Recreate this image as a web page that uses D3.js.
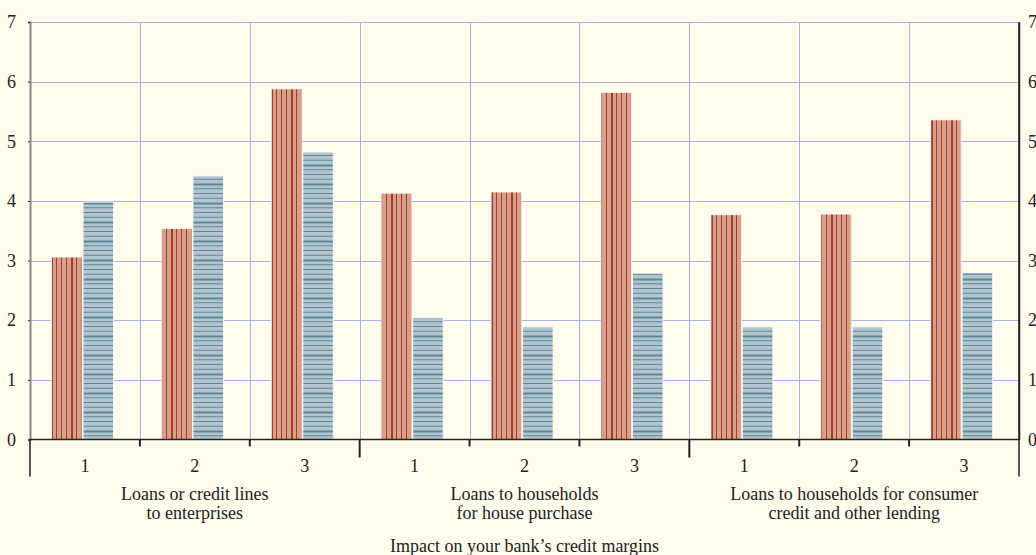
<!DOCTYPE html>
<html>
<head>
<meta charset="utf-8">
<script src="https://cdn.jsdelivr.net/npm/d3@7"></script>
<style>
  body { margin: 0; background: #fffcee; }
  svg { display: block; }
  text { font-family: "Liberation Serif", "DejaVu Serif", serif; fill: #222; }
</style>
</head>
<body>
<svg id="chart" width="1036" height="555"></svg>
<script>
// data
const categories = ['Loans or credit lines|to enterprises',
                    'Loans to households|for house purchase',
                    'Loans to households for consumer|credit and other lending'];
const subLabels = ['1', '2', '3'];
const seriesA = [3.06, 3.54, 5.88, 4.13, 4.15, 5.82, 3.77, 3.78, 5.36];
const seriesB = [3.98, 4.42, 4.82, 2.04, 1.89, 2.79, 1.89, 1.89, 2.80];
const yTicks = [0, 1, 2, 3, 4, 5, 6, 7];
const xTitle = 'Impact on your bank\u2019s credit margins';

const W = 1036, H = 555;
const m = { left: 30, right: 17, top: 22, bottom: 115 };
const svg = d3.select('#chart');
const FS = '18px';

svg.append('rect').attr('width', W).attr('height', H).attr('fill', '#fffcee');

// patterns
const defs = svg.append('defs');
const pr = defs.append('pattern').attr('id', 'redpat')
  .attr('patternUnits', 'userSpaceOnUse').attr('width', 20).attr('height', 10);
pr.append('rect').attr('width', 20).attr('height', 10).attr('fill', '#d69f88');
[[1, 1], [6, 1], [11, 2], [16, 1]].forEach(([x, w]) =>
  pr.append('rect').attr('x', x).attr('width', w).attr('height', 10).attr('fill', '#a83a2c'));

const pb = defs.append('pattern').attr('id', 'bluepat')
  .attr('patternUnits', 'userSpaceOnUse').attr('width', 10).attr('height', 19);
pb.append('rect').attr('width', 10).attr('height', 19).attr('fill', '#b4c4cc');
[[3, 1], [7.75, 1], [12.5, 2], [17.25, 1]].forEach(([y, h]) =>
  pb.append('rect').attr('y', y).attr('height', h).attr('width', 10).attr('fill', '#5a8a9a'));

const groups = d3.range(seriesA.length);
const x0 = d3.scaleBand().domain(groups).range([m.left, W - m.right]);
const x1 = d3.scaleBand().domain(['a', 'b']).range([0, x0.bandwidth()])
  .paddingInner(0.032).paddingOuter(0.76).align(0.45);
const y = d3.scaleLinear().domain([0, 7]).range([H - m.bottom - 0.5, m.top]);

const x0r = W - m.right;

// grid
const grid = svg.append('g').attr('stroke', '#a9b0e8').attr('stroke-width', 1);
yTicks.filter(d => d > 0).forEach(t =>
  grid.append('line').attr('x1', m.left).attr('x2', x0r).attr('y1', Math.round(y(t)) + 0.5).attr('y2', Math.round(y(t)) + 0.5));
groups.slice(1).forEach(g =>
  grid.append('line').attr('x1', Math.round(x0(g)) + 0.5).attr('x2', Math.round(x0(g)) + 0.5).attr('y1', y(7)).attr('y2', y(0)));

// bars
const bars = svg.append('g');
groups.forEach(g => {
  [['a', seriesA[g], 'url(#redpat)'], ['b', seriesB[g], 'url(#bluepat)']].forEach(([k, v, f]) => {
    bars.append('rect')
      .attr('x', x0(g) + x1(k))
      .attr('width', x1.bandwidth())
      .attr('y', y(v))
      .attr('height', y(0) - y(v))
      .attr('fill', f)
      .attr('stroke', '#ffffff').attr('stroke-opacity', 0.8).attr('stroke-width', 1);
  });
});

// axes
const yL = svg.append('g').attr('transform', `translate(${m.left},0)`)
  .call(d3.axisLeft(y).tickValues(yTicks).tickSize(2).tickPadding(12).tickFormat(d3.format('d')));
yL.select('.domain').attr('stroke', '#888').attr('stroke-width', 2);
const yR = svg.append('g').attr('transform', `translate(${x0r},0)`)
  .call(d3.axisRight(y).tickValues(yTicks).tickSize(0).tickPadding(9).tickFormat(d3.format('d')));
yR.select('.domain').attr('stroke', '#222').attr('stroke-width', 1.5);
svg.selectAll('.tick text').style('font-family', '"Liberation Serif", serif').style('font-size', FS).attr('fill', '#222');
svg.selectAll('.tick line').attr('stroke', '#222');

// baseline and group ticks
const base = y(0);
const xa = svg.append('g').attr('stroke', '#222');
xa.append('line').attr('x1', m.left).attr('x2', x0r).attr('y1', base).attr('y2', base).attr('stroke-width', 1.5);
xa.append('line').attr('x1', m.left).attr('x2', m.left).attr('y1', base).attr('y2', base + 37).attr('stroke-width', 1.5);
xa.append('line').attr('x1', x0r).attr('x2', x0r).attr('y1', m.top).attr('y2', base + 37).attr('stroke-width', 1.5);
groups.slice(1).forEach(g => {
  const major = g % 3 === 0;
  xa.append('line').attr('x1', x0(g)).attr('x2', x0(g))
    .attr('y1', base).attr('y2', base + (major ? 18 : 7))
    .attr('stroke-width', 2);
});

// sub labels
svg.append('g').selectAll('text').data(groups).join('text')
  .attr('x', g => x0(g) + x0.bandwidth() / 2)
  .attr('y', base + 32)
  .attr('text-anchor', 'middle').style('font-size', FS)
  .text(g => subLabels[g % 3]);

// category labels
categories.forEach((c, i) => {
  const cx = x0(i * 3) + x0.bandwidth() * 1.5;
  const t = svg.append('text').attr('text-anchor', 'middle').style('font-size', FS);
  c.split('|').forEach((line, j) =>
    t.append('tspan').attr('x', cx).attr('y', base + 60 + j * 19).text(line));
});

svg.append('text').attr('x', (m.left + x0r) / 2).attr('y', 552)
  .attr('text-anchor', 'middle').style('font-size', FS).text(xTitle);
</script>
</body>
</html>
